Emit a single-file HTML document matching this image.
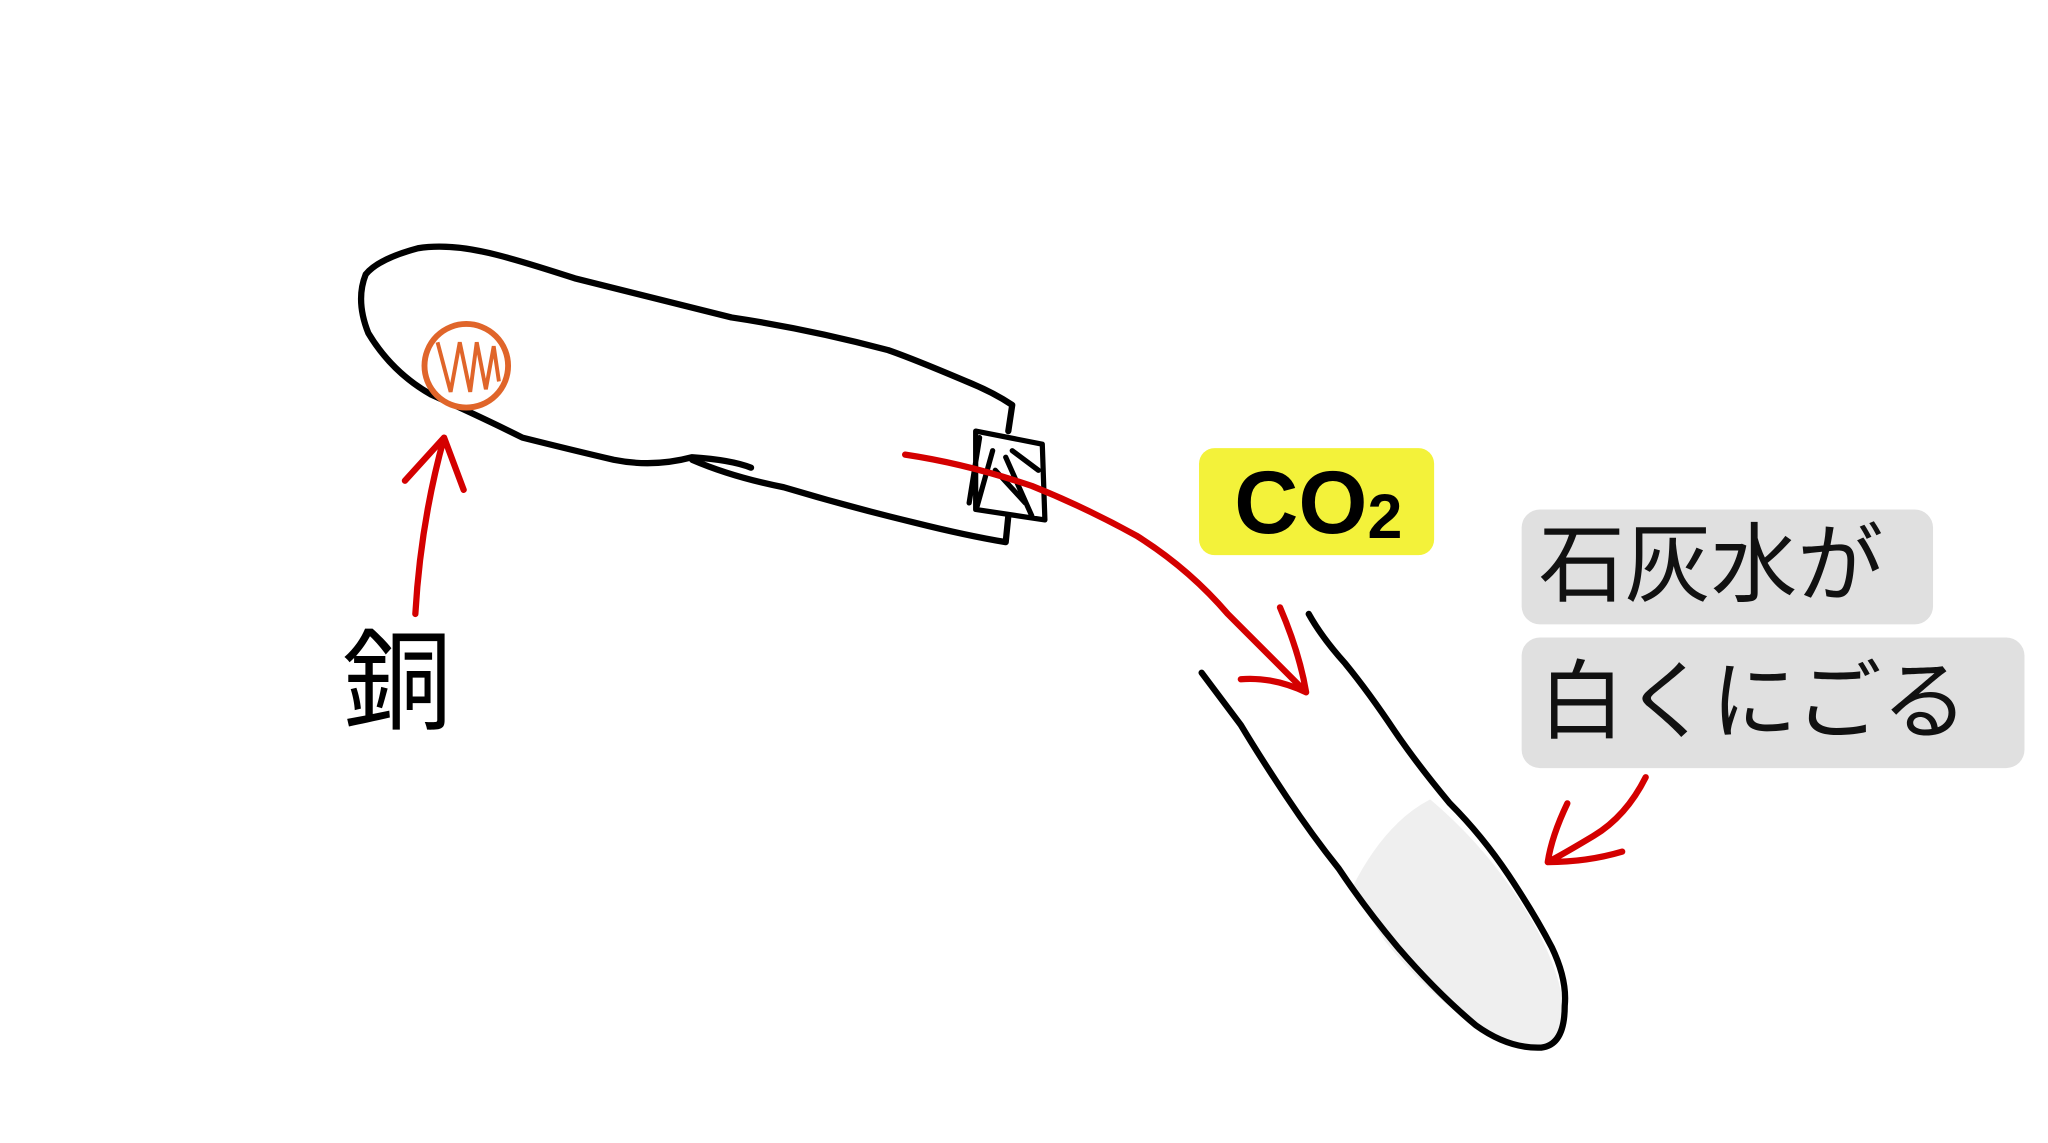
<!DOCTYPE html>
<html><head><meta charset="utf-8"><style>
html,body{margin:0;padding:0;background:#fff;}
svg{display:block}
text{font-family:"Liberation Sans","Noto Sans CJK JP",sans-serif;}
</style></head><body>
<svg width="2048" height="1143" viewBox="0 0 1568 875" xmlns="http://www.w3.org/2000/svg">
<rect width="1568" height="875" fill="#fff"/>
<rect x="1165" y="390" width="315" height="88" rx="14" fill="#e0e0e0"/>
<rect x="1165" y="488" width="385" height="100" rx="14" fill="#e0e0e0"/>
<rect x="918" y="343" width="180" height="82" rx="12" fill="#f3f23a"/>
<path d="M1035,680 Q1060,630 1095,612 Q1140,650 1170,700 Q1200,750 1198,790 Q1180,808 1150,798 Q1100,770 1060,720 Z" fill="#efefef"/>
<g fill="none" stroke="#000" stroke-width="4.8" stroke-linecap="round" stroke-linejoin="round">
<path d="M772,330 L775,310 Q760,300 740,292 Q700,275 680,268 Q620,252 560,243 Q500,228 440,213 Q400,200 380,195 Q345,186 320,190 Q290,198 280,210 Q272,230 282,255 Q300,285 330,302 Q370,320 400,335 Q440,345 470,352 Q500,358 530,350 Q560,352 575,358"/>
<path d="M530,352 Q560,365 600,373 Q650,388 700,400 Q740,410 770,415 L772,395"/>
<path d="M747,330 L798,340 L800,398 L747,390 Z M750,335 L742,385 M760,345 L748,388 M770,350 L790,395 M775,345 L795,360 M762,360 L785,385" stroke-width="4"/>
<path d="M920,515 Q935,535 950,555 Q965,580 985,610 Q1005,640 1025,665 Q1045,695 1070,725 Q1100,760 1130,785 Q1155,803 1180,802 Q1198,800 1198,770 Q1200,750 1188,725 Q1175,700 1155,670 Q1135,640 1110,615 Q1085,585 1068,560 Q1048,530 1030,508 Q1012,488 1002,470"/>
</g>
<circle cx="357" cy="280" r="32" fill="#fff" stroke="#e0652a" stroke-width="4.5"/>
<path d="M335,262 L345,300 L352,262 L360,300 L365,262 L372,298 L378,265 L382,292" fill="none" stroke="#e0652a" stroke-width="3"/>
<g fill="none" stroke="#d40000" stroke-width="4.8" stroke-linecap="round" stroke-linejoin="round">
<path d="M318,470 Q322,400 340,335 M310,368 L340,335 L355,375"/>
<path d="M693,348 Q740,355 790,372 Q830,388 870,410 Q910,435 940,470 Q970,500 1000,530 M980,465 Q995,500 1000,530 Q975,518 950,520"/>
<path d="M1260,595 Q1245,625 1220,640 Q1195,655 1185,660 M1200,615 Q1188,640 1185,660 Q1215,660 1242,652"/>
</g>
<text x="262" y="552" font-size="84" fill="#000">銅</text>
<text x="945" y="408" font-size="68" font-weight="bold" fill="#000">CO<tspan font-size="48" dy="4">2</tspan></text>
<text x="1178" y="455" font-size="66" fill="#111">石灰水が</text>
<text x="1178" y="560" font-size="66" fill="#111">白くにごる</text>
</svg>
</body></html>
